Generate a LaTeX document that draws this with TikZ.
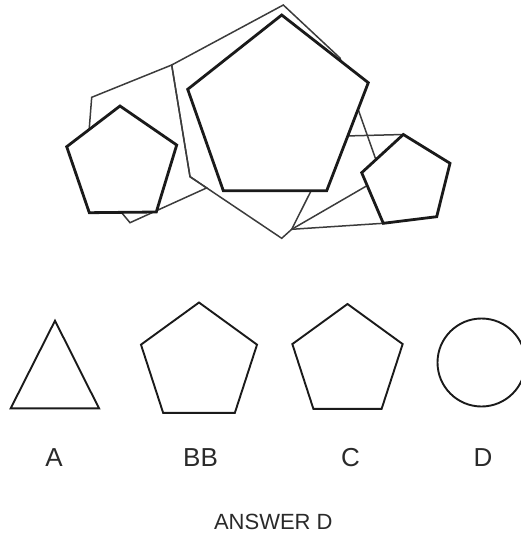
\documentclass[tikz,border=0pt]{standalone}
\usepackage{fontspec}
\setmainfont{Liberation Sans}
\usepackage{xcolor}
\definecolor{cInk}{HTML}{1A1A1A}
\definecolor{cThin}{HTML}{3C3C3C}
\definecolor{cText}{HTML}{2A2A2A}
\usepackage{tikz}
\tikzset{
  shape-thick/.style={draw=cInk,line width=2.8pt,fill=white,line join=miter},
  shape-thin/.style={draw=cThin,line width=1.5pt,line join=miter},
  shape-plain/.style={draw=cInk,line width=1.9pt,line join=miter},
  node-label/.style={font=\fontsize{26}{30}\selectfont,text=cText,inner sep=0pt},
  node-answer/.style={font=\fontsize{22}{26}\selectfont,text=cText,inner sep=0pt},
}

\begin{document}
\begin{tikzpicture}[x=1pt,y=-1pt]
  \useasboundingbox (0,0) rectangle (520,535);
  % thin outlines behind
  \coordinate (v) at (291.7,229.3);
  \draw[shape-thin] (91.7,97.3) -- (171.7,65) -- (190,176.7) -- (206.7,187.9)
    -- (130,222.7) -- (86,170) -- cycle;
  \draw[shape-thin] (283.3,5) -- (340,58) -- (382,177) -- (v) -- (281.7,238.3)
    -- (190,176.7) -- (171.7,65) -- cycle;
  \draw[shape-thin] (v) -- (315,183) -- (345,136) -- (403.3,134.5)
    -- (383.3,223.3) -- cycle;
  % thick pentagons on top
  \draw[shape-thick] (120,106) -- (176.7,145) -- (156.3,212) -- (89.3,212.7)
    -- (66.7,146.7) -- cycle;
  \draw[shape-thick] (281.7,15) -- (368.3,82.7) -- (326.7,190.7) -- (223.3,190.7)
    -- (187.7,89.3) -- cycle;
  \draw[shape-thick] (403.3,134.5) -- (450,163.3) -- (436.7,216.7) -- (383.3,223.3)
    -- (361.7,172.7) -- cycle;
  % choices
  \draw[shape-plain] (55,320.7) -- (99,408.3) -- (10.7,408.3) -- cycle;
  \draw[shape-plain,shift={(199,363.5)}] (270:61) -- (198:61) -- (126:61)
    -- (54:61) -- (342:61) -- cycle;
  \draw[shape-plain,shift={(347.5,362)}] (270:58) -- (198:58) -- (126:58)
    -- (54:58) -- (342:58) -- cycle;
  \draw[shape-plain] (481.5,362.5) circle (44);
  \node[node-label] (lab-a) at (54,457.5) {A};
  \node[node-label] (lab-b) at (200.5,457.5) {BB};
  \node[node-label] (lab-c) at (350.5,457.5) {C};
  \node[node-label] (lab-d) at (483,457.5) {D};
  \node[node-answer] (answer) at (273.3,521.7) {ANSWER D};
\end{tikzpicture}
\end{document}
